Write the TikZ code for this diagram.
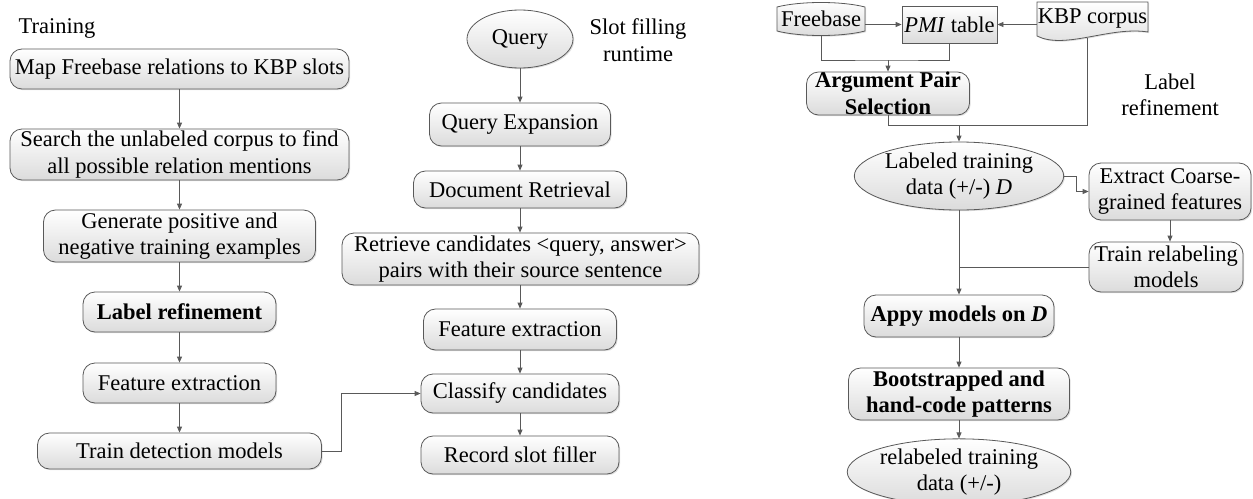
\documentclass[tikz,border=0pt]{standalone}
\usepackage{fontspec}
\setmainfont{Liberation Serif}
\usetikzlibrary{arrows.meta,shapes.geometric,shadows}

\begin{document}
\begin{tikzpicture}[x=1pt,y=-1pt,
  font=\fontsize{22.5}{26.5}\selectfont,
  edge/.style={draw=black!65, line width=0.8pt},
  arr/.style={edge, -{Triangle[length=6pt,width=5pt]}},
  shadefill/.style={top color=white, bottom color=black!14},
  softshadow/.style={drop shadow={opacity=0.25,shadow xshift=1.2pt,shadow yshift=-1.2pt}},
  stepbox/.style={edge, shadefill, softshadow, rounded corners=12pt,
    inner sep=0pt, align=center},
  sharpbox/.style={edge, shadefill, softshadow, inner sep=0pt, align=center},
  oval/.style={ellipse, edge, shadefill, softshadow, inner sep=0pt, align=center},
  lbl/.style={inner sep=0pt, align=center},
]
\useasboundingbox (0,0) rectangle (1253,498);

% ---------------- Training pipeline ----------------
\node[lbl] (trainlbl) at (57,28) {Training};
\node[stepbox, minimum width=339pt, minimum height=40pt] (t1) at (179.5,69)
  {Map Freebase relations to KBP slots};
\node[stepbox, minimum width=339pt, minimum height=51pt] (t2) at (179.5,154.5)
  {Search the unlabeled corpus to find\\all possible relation mentions};
\node[stepbox, minimum width=272pt, minimum height=52pt] (t3) at (179.5,236)
  {Generate positive and\\negative training examples};
\node[stepbox, minimum width=193pt, minimum height=40pt] (t4) at (179.5,312)
  {\bfseries Label refinement};
\node[stepbox, minimum width=193pt, minimum height=40pt] (t5) at (179.5,383)
  {Feature extraction};
\node[stepbox, minimum width=284pt, minimum height=36pt] (t6) at (179.5,451)
  {Train detection models};

\draw[arr] (t1) -- (t2);
\draw[arr] (t2) -- (t3);
\draw[arr] (t3) -- (t4);
\draw[arr] (t4) -- (t5);
\draw[arr] (t5) -- (t6);

% ---------------- Slot filling runtime ----------------
\node[lbl] (sflbl) at (638,40) {Slot filling\\runtime};
\node[oval, minimum width=106pt, minimum height=58pt] (q0) at (520,39) {Query};
\node[stepbox, minimum width=181pt, minimum height=43pt] (q1) at (520,124.5)
  {Query Expansion};
\node[stepbox, minimum width=213pt, minimum height=37pt] (q2) at (520,189.5)
  {Document Retrieval};
\node[stepbox, minimum width=357pt, minimum height=52pt] (q3) at (520.5,259)
  {Retrieve candidates \textless query, answer\textgreater\\pairs with their source sentence};
\node[stepbox, minimum width=193pt, minimum height=41pt] (q4) at (520,329.5)
  {Feature extraction};
\node[stepbox, minimum width=198pt, minimum height=39pt] (q5) at (520,393.5)
  {Classify candidates};
\node[stepbox, minimum width=198pt, minimum height=38pt] (q6) at (520,455)
  {Record slot filler};

\draw[arr] (q0) -- (q1);
\draw[arr] (q1) -- (q2);
\draw[arr] (q2) -- (q2 |- q3.north);
\draw[arr] (q3.south -| q4) -- (q4);
\draw[arr] (q4) -- (q5);
\draw[arr] (q5) -- (q6);
\draw[arr] (t6.east) -- ++(19,0) |- (q5.west);

% ---------------- Label refinement ----------------
\node[lbl] (lrlbl) at (1170,95) {Label\\refinement};

% stored-data shape for Freebase
\path[edge, shadefill, softshadow] (777,7) -- (777,31)
  .. controls (800,37) and (842,37) .. (865,31) -- (865,7)
  .. controls (842,1) and (800,1) .. (777,7) -- cycle;
\node[lbl, minimum width=88pt, minimum height=34pt] (fb) at (821,19) {Freebase};

\node[sharpbox, minimum width=95pt, minimum height=37pt] (pmi) at (949.5,24.5)
  {\textit{PMI} table};

% document shape for the KBP corpus
\path[edge, shadefill, softshadow] (1037,2) -- (1148,2) -- (1148,32)
  .. controls (1110,26) and (1065,50) .. (1037,36) -- cycle;
\node[lbl, minimum width=111pt, minimum height=34pt] (kbp) at (1092.5,19) {KBP corpus};
\coordinate (kbpb) at (1087,38);

\node[stepbox, minimum width=163pt, minimum height=43pt] (aps) at (888,93.5)
  {\bfseries Argument Pair\\\bfseries Selection};
\node[oval, minimum width=186pt, minimum height=68pt] (ltd) at (959,176)
  {Labeled training\\data (+/-) \textit{D}};
\node[stepbox, minimum width=162pt, minimum height=57pt] (ext) at (1170,191.5)
  {Extract Coarse-\\grained features};
\node[stepbox, minimum width=154pt, minimum height=50pt] (trm) at (1166,267)
  {Train relabeling\\models};
\node[stepbox, minimum width=190pt, minimum height=42pt] (apply) at (959,316)
  {\bfseries Appy models on \textit{D}};
\node[stepbox, minimum width=221pt, minimum height=52pt] (boot) at (959,394)
  {\bfseries Bootstrapped and\\\bfseries hand-code patterns};
\node[oval, minimum width=203pt, minimum height=52pt] (rel) at (959,472)
  {relabeled training\\data (+/-)};

\coordinate (j1) at (888,60);
\coordinate (j2) at (959,125);

\draw[arr] (fb.east |- pmi.west) -- (pmi.west);
\draw[arr] (kbp.west |- pmi.east) -- (pmi.east);
\draw[edge] (fb.south) |- (j1) -| (pmi.south);
\draw[arr] (j1) -- (aps.north);
\draw[edge] (aps.south) |- (kbpb |- j2) -- (kbpb);
\draw[arr] (j2) -- (ltd.north);
\draw[arr] (ltd.east) -- ++(12,0) |- (ext.west);
\draw[arr] (ext.south) -- (ext.south |- trm.north);
\draw[arr] (ltd.south) -- (apply.north);
\draw[edge] (trm.west) -- (trm.west -| ltd.south);
\draw[arr] (apply) -- (boot);
\draw[arr] (boot) -- (rel);
\end{tikzpicture}
\end{document}
